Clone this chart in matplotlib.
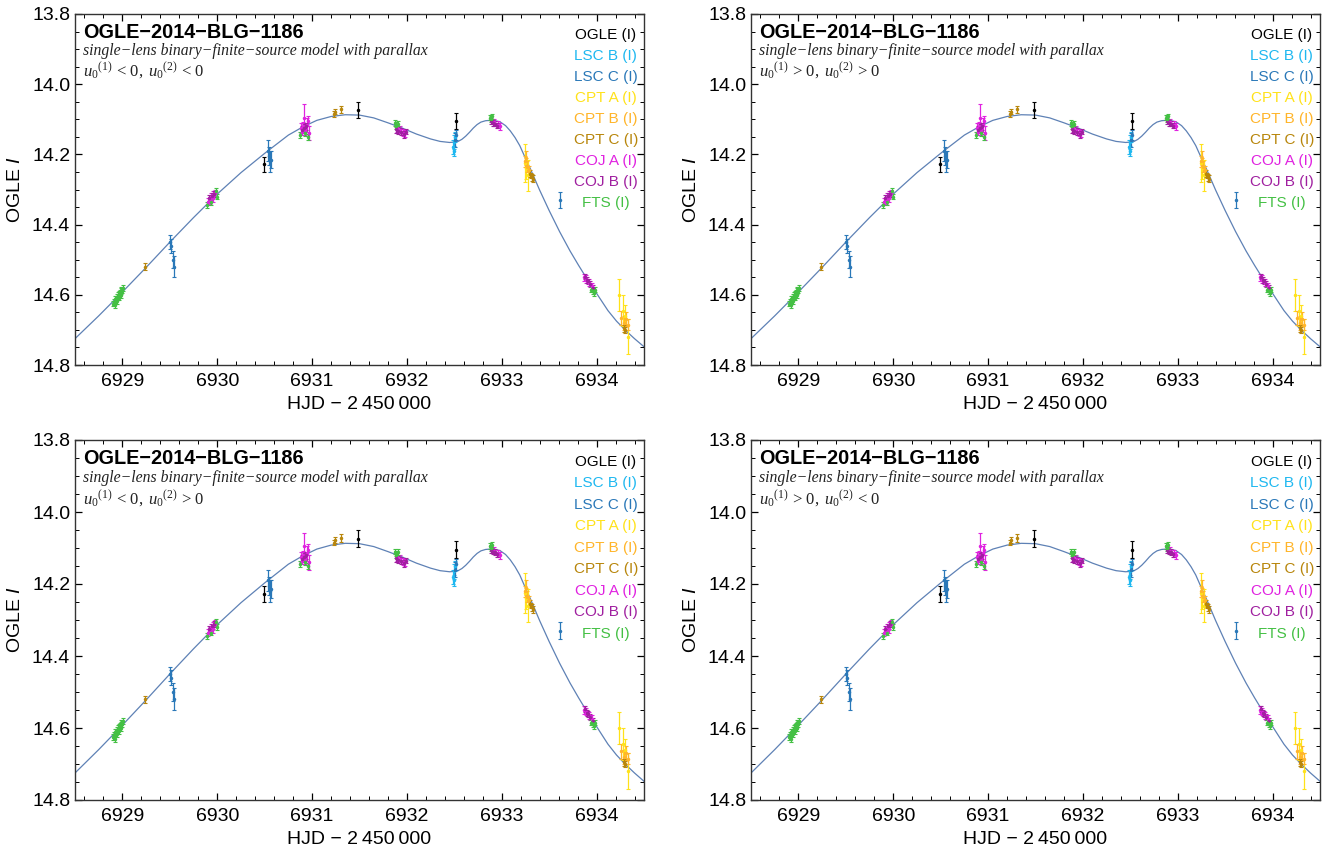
import numpy as np
import matplotlib
matplotlib.use('Agg')
import matplotlib.pyplot as plt
from matplotlib.ticker import MultipleLocator

plt.rcParams['font.family'] = ['Liberation Sans', 'DejaVu Sans']
plt.rcParams['mathtext.fontset'] = 'custom'
plt.rcParams['mathtext.rm'] = 'Liberation Serif'
plt.rcParams['mathtext.it'] = 'Liberation Serif:italic'
plt.rcParams['mathtext.sf'] = 'Liberation Sans:italic'

# model light curve
model_t = [6928.50, 6928.75, 6929.00, 6929.25, 6929.50, 6929.75, 6930.00, 6930.25,
           6930.50, 6930.75, 6930.90, 6931.05, 6931.20, 6931.35, 6931.50, 6931.65,
           6931.80, 6931.95, 6932.10, 6932.25, 6932.35, 6932.45, 6932.50, 6932.54,
           6932.58, 6932.62, 6932.66, 6932.70, 6932.74, 6932.78, 6932.83, 6932.88,
           6932.93, 6932.98, 6933.04, 6933.09, 6933.14, 6933.19, 6933.24, 6933.30,
           6933.40, 6933.50, 6933.61, 6933.72, 6933.81, 6933.90, 6934.01, 6934.12,
           6934.21, 6934.30, 6934.40, 6934.50]
model_mag = [14.725, 14.660, 14.592, 14.522, 14.450, 14.380, 14.313, 14.252,
             14.197, 14.145, 14.122, 14.103, 14.092, 14.087, 14.088, 14.096,
             14.110, 14.125, 14.142, 14.156, 14.163, 14.166, 14.165, 14.163,
             14.157, 14.148, 14.137, 14.125, 14.115, 14.108, 14.104, 14.103,
             14.104, 14.107, 14.118, 14.133, 14.152, 14.175, 14.205, 14.240,
             14.302, 14.360, 14.420, 14.475, 14.516, 14.555, 14.600, 14.645,
             14.675, 14.700, 14.725, 14.748]

# data sets: time, magnitude, error
ogle_t = [6930.49, 6931.48, 6932.52]
ogle_m = [14.228, 14.074, 14.105]
ogle_e = [0.022, 0.023, 0.024]

lscb_t = [6932.49, 6932.50, 6932.51, 6932.50]
lscb_m = [14.180, 14.165, 14.150, 14.190]
lscb_e = [0.020, 0.020, 0.015, 0.015]

lscc_t = [6929.50, 6929.51, 6929.53, 6929.54, 6930.53, 6930.55, 6930.56, 6930.57,
          6932.51, 6932.52, 6933.61]
lscc_m = [14.450, 14.460, 14.500, 14.520, 14.190, 14.205, 14.220, 14.215,
          14.160, 14.145, 14.330]
lscc_e = [0.020, 0.020, 0.025, 0.030, 0.030, 0.025, 0.030, 0.025,
          0.020, 0.015, 0.024]

cpta_t = [6933.24, 6933.28, 6933.26, 6934.24, 6934.28, 6934.30, 6934.33]
cpta_m = [14.225, 14.260, 14.240, 14.600, 14.645, 14.660, 14.720]
cpta_e = [0.055, 0.045, 0.030, 0.045, 0.045, 0.030, 0.050]

cptb_t = [6933.25, 6933.27, 6933.29, 6933.26, 6934.26, 6934.29, 6934.31, 6934.33]
cptb_m = [14.220, 14.235, 14.245, 14.210, 14.665, 14.680, 14.670, 14.685]
cptb_e = [0.015, 0.015, 0.012, 0.020, 0.020, 0.020, 0.020, 0.015]

cptc_t = [6929.24, 6931.23, 6931.24, 6931.30, 6933.30, 6933.32, 6933.33, 6933.31,
          6934.29, 6934.30]
cptc_m = [14.520, 14.085, 14.078, 14.072, 14.255, 14.265, 14.270, 14.260,
          14.695, 14.700]
cptc_e = [0.010, 0.008, 0.008, 0.010, 0.010, 0.010, 0.010, 0.008,
          0.010, 0.008]

coja_t = [6929.90, 6929.92, 6929.93, 6929.95, 6929.96, 6929.98,
          6930.88, 6930.90, 6930.92, 6930.93, 6930.95, 6930.97, 6930.89, 6930.96,
          6931.90, 6931.93, 6931.96, 6931.98,
          6932.96, 6932.98, 6932.92,
          6933.87, 6933.89, 6933.92, 6933.95]
coja_m = [14.335, 14.330, 14.320, 14.325, 14.315, 14.310,
          14.125, 14.120, 14.095, 14.130, 14.115, 14.140, 14.135, 14.105,
          14.125, 14.130, 14.138, 14.140,
          14.115, 14.120, 14.108,
          14.550, 14.555, 14.565, 14.575]
coja_e = [0.010, 0.010, 0.010, 0.010, 0.010, 0.010,
          0.015, 0.012, 0.038, 0.015, 0.020, 0.020, 0.010, 0.015,
          0.010, 0.010, 0.010, 0.010,
          0.010, 0.010, 0.010,
          0.010, 0.010, 0.010, 0.010]

cojb_t = [6929.91, 6929.94, 6929.97,
          6930.89, 6930.91, 6930.94,
          6931.88, 6931.91, 6931.94, 6931.97, 6931.99,
          6932.89, 6932.91, 6932.93, 6932.95,
          6933.88, 6933.90, 6933.91, 6933.93, 6933.96]
cojb_m = [14.325, 14.318, 14.312,
          14.130, 14.125, 14.120,
          14.128, 14.132, 14.135, 14.142, 14.135,
          14.105, 14.110, 14.112, 14.118,
          14.548, 14.558, 14.562, 14.570, 14.580]
cojb_e = [0.008, 0.008, 0.008,
          0.010, 0.012, 0.010,
          0.010, 0.010, 0.010, 0.010, 0.008,
          0.008, 0.008, 0.008, 0.008,
          0.008, 0.008, 0.008, 0.008, 0.008]

fts_t = [6928.90, 6928.91, 6928.92, 6928.92, 6928.93, 6928.94, 6928.94, 6928.95,
         6928.96, 6928.96, 6928.97, 6928.98, 6928.98, 6928.99, 6929.00, 6929.01,
         6929.89, 6929.93, 6929.99, 6930.00,
         6930.87, 6930.93, 6930.96,
         6931.87, 6931.89, 6931.91, 6931.88,
         6932.88, 6932.89, 6932.90,
         6933.94, 6933.96, 6933.97, 6933.98]
fts_m = [14.625, 14.620, 14.612, 14.630, 14.610, 14.605, 14.618, 14.600,
         14.598, 14.608, 14.595, 14.590, 14.600, 14.585, 14.588, 14.580,
         14.345, 14.335, 14.305, 14.320,
         14.145, 14.140, 14.150,
         14.110, 14.115, 14.112, 14.120,
         14.095, 14.100, 14.092,
         14.585, 14.590, 14.595, 14.585]
fts_e = [0.008] * len(fts_t)

datasets = [
    ('OGLE (I)', '#000000', ogle_t, ogle_m, ogle_e),
    ('LSC B (I)', '#1FB8F0', lscb_t, lscb_m, lscb_e),
    ('LSC C (I)', '#2A78B8', lscc_t, lscc_m, lscc_e),
    ('CPT A (I)', '#FFE21A', cpta_t, cpta_m, cpta_e),
    ('CPT B (I)', '#FFB52A', cptb_t, cptb_m, cptb_e),
    ('CPT C (I)', '#B8860B', cptc_t, cptc_m, cptc_e),
    ('COJ A (I)', '#E022E0', coja_t, coja_m, coja_e),
    ('COJ B (I)', '#A020A0', cojb_t, cojb_m, cojb_e),
    ('FTS (I)', '#44C044', fts_t, fts_m, fts_e),
]

panel_labels = [
    r'$u_0{}^{(1)}\,<\,0,\; u_0{}^{(2)}\,<\,0$',
    r'$u_0{}^{(1)}\,>\,0,\; u_0{}^{(2)}\,>\,0$',
    r'$u_0{}^{(1)}\,<\,0,\; u_0{}^{(2)}\,>\,0$',
    r'$u_0{}^{(1)}\,>\,0,\; u_0{}^{(2)}\,<\,0$',
]

W, H = 1333, 852
fig = plt.figure(figsize=(W / 100, H / 100), dpi=100)

# axes frames in pixels: left, top, right, bottom
frames = [(75, 14, 644, 365), (751, 14, 1320, 365),
          (75, 440, 644, 800), (751, 440, 1320, 800)]

for k, (l, t, r, b) in enumerate(frames):
    ax = fig.add_axes([l / W, 1 - b / H, (r - l) / W, (b - t) / H])

    ax.plot(model_t, model_mag, color='#5E81B5', lw=0.9, zorder=1)

    for name, col, t_, m_, e_ in datasets:
        ax.errorbar(t_, m_, yerr=e_, fmt='o', ms=1.5, color=col, ecolor=col,
                    elinewidth=0.9, capsize=1.5, capthick=0.8, zorder=2)

    ax.set_xlim(6928.5, 6934.5)
    ax.set_ylim(14.8, 13.8)
    ax.xaxis.set_major_locator(MultipleLocator(1))
    ax.xaxis.set_minor_locator(MultipleLocator(0.2))
    ax.yaxis.set_major_locator(MultipleLocator(0.2))
    ax.yaxis.set_minor_locator(MultipleLocator(0.05))
    ax.yaxis.set_major_formatter(matplotlib.ticker.FormatStrFormatter('%.1f'))
    ax.tick_params(which='both', direction='in', top=True, right=True, labelsize=14)
    ax.tick_params(which='major', length=5, width=0.9)
    ax.tick_params(which='minor', length=3, width=0.7)
    ax.tick_params(axis='x', pad=6)
    for sp in ax.spines.values():
        sp.set_linewidth(1.0)
        sp.set_color('#333333')

    ax.set_xlabel('HJD \u2212 2\u2009450\u2009000', fontsize=14, labelpad=4)
    ax.set_ylabel('OGLE $\\mathsf{I}$', fontsize=14, labelpad=6)

    ax.text(0.014, 0.948, 'OGLE\u22122014\u2212BLG\u22121186', transform=ax.transAxes,
            fontsize=14.3, fontweight='bold', ha='left', va='center')
    ax.text(0.014, 0.895, 'single\u2212lens binary\u2212finite\u2212source model with parallax',
            transform=ax.transAxes, fontsize=11.3, family='Liberation Serif',
            style='italic', ha='left', va='center', color='#222222')
    ax.text(0.014, 0.838, panel_labels[k], transform=ax.transAxes, fontsize=12,
            ha='left', va='center', color='#222222')

    for i, (name, col, _, _, _) in enumerate(datasets):
        ax.text(0.933, 0.940 - i * 0.0598, name, transform=ax.transAxes,
                fontsize=11, color=col, ha='center', va='center')

fig.savefig('out.png', dpi=100)
